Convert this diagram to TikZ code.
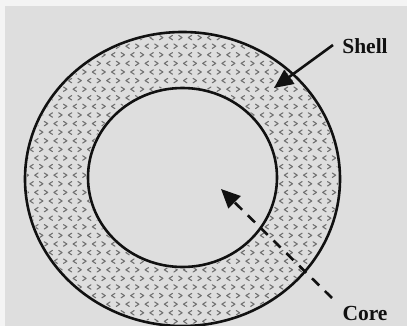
\documentclass[tikz,border=0pt]{standalone}
\usepackage{fontspec}
\setmainfont{Liberation Serif}
\usetikzlibrary{arrows.meta}
\definecolor{bg}{HTML}{DEDEDE}
\definecolor{edge}{HTML}{F4F4F4}
\definecolor{dots}{HTML}{707070}
\definecolor{ink}{HTML}{111111}
\tikzset{
  ring/.style={draw=ink, line width=2.6pt},
  label/.style={font=\fontsize{21.5}{24}\selectfont\bfseries, text=ink, inner sep=0pt},
  pointer/.style={draw=ink, line width=2.6pt, -{Triangle[length=19pt,width=17pt]}},
  chev/.style={draw=dots, line width=1.1pt, line cap=round, line join=round},
}
\begin{document}
\begin{tikzpicture}[x=1pt,y=-1pt]
\useasboundingbox (0,0) rectangle (407,326);
\fill[edge] (0,0) rectangle (407,326);
\fill[bg] (5,6) rectangle (407,326);
% pattern in the ring
\begin{scope}[even odd rule]
  \clip (182.5,179) ellipse [x radius=155.5, y radius=145]
        (182.5,177.5) ellipse [x radius=96.5, y radius=91.5];
  \foreach \j in {0,...,35} {
    \foreach \i in {0,...,34} {
      \pgfmathsetmacro{\xx}{22+\i*9.6+mod(\j,2)*4.8}
      \pgfmathsetmacro{\yy}{29+\j*8.6}
      \ifodd\i
        \draw[chev] (\xx+1.7,\yy-2.2) -- (\xx-1.7,\yy) -- (\xx+1.7,\yy+2.2);
      \else
        \draw[chev] (\xx-1.7,\yy-2.2) -- (\xx+1.7,\yy) -- (\xx-1.7,\yy+2.2);
      \fi
    }
  }
\end{scope}
\draw[ring] (182.5,179) ellipse [x radius=157.5, y radius=147];
\draw[ring] (182.5,177.5) ellipse [x radius=94.5, y radius=89.5];
% labels
\node[label] (shell) at (365,46) {Shell};
\node[label] (core) at (365,313) {Core};
\coordinate (shellstart) at (333,45);
\coordinate (shelltip) at (274,88);
\coordinate (corestart) at (332,298);
\coordinate (coretip) at (221,189);
\draw[pointer] (shellstart) -- (shelltip);
\draw[pointer, dash pattern=on 10pt off 8pt] (corestart) -- (coretip);
\end{tikzpicture}
\end{document}
